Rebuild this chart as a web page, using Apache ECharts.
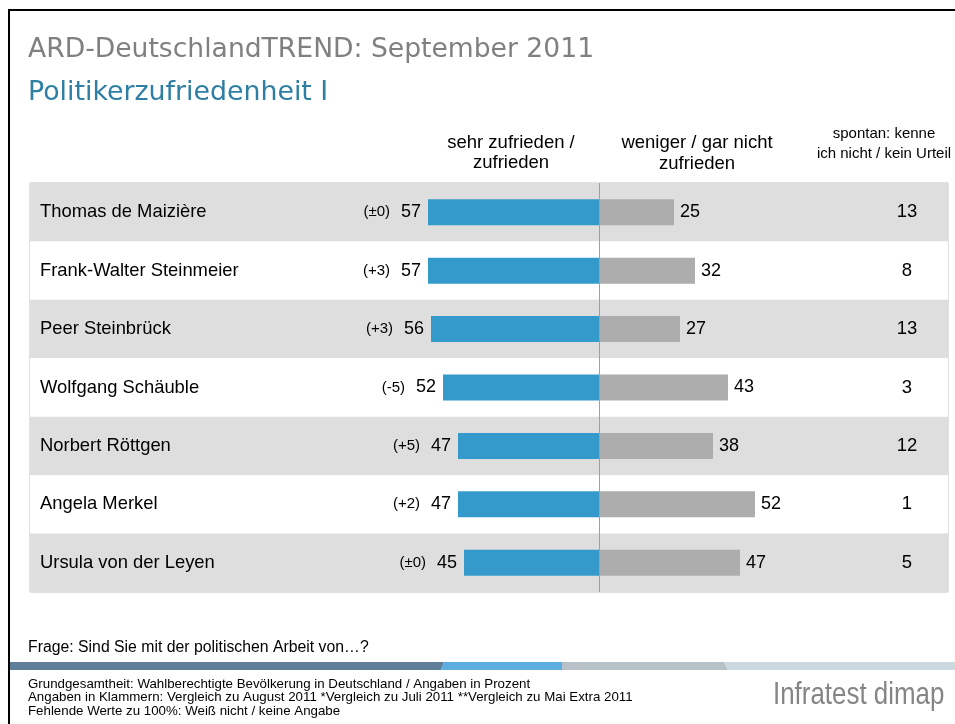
<!DOCTYPE html>
<html>
<head>
<meta charset="utf-8">
<script src="https://cdn.jsdelivr.net/npm/echarts@6/dist/echarts.min.js"></script>
<style>html,body{margin:0;padding:0;background:#fff;}#chart{width:955px;height:724px;}</style>
</head>
<body>
<div id="chart"></div>
<script>
const politicians = ['Thomas de Maizière','Frank-Walter Steinmeier','Peer Steinbrück','Wolfgang Schäuble','Norbert Röttgen','Angela Merkel','Ursula von der Leyen'];
const zufrieden = [57, 57, 56, 52, 47, 47, 45];
const changes = ['(±0)', '(+3)', '(+3)', '(-5)', '(+5)', '(+2)', '(±0)'];
const nichtZufrieden = [25, 32, 27, 43, 38, 52, 47];
const spontan = [13, 8, 13, 3, 12, 1, 5];

const chart = echarts.init(document.getElementById('chart'));
const F = 'Liberation Sans, Arial, sans-serif';
const option = {
  animation: false,
  grid: { left: 30, width: 918, top: 183, height: 409, show: true, borderColor: '#c4c4c4', borderWidth: 1, backgroundColor: 'transparent' },
  xAxis: { type: 'value', min: -(569 / 3), max: 349 / 3, show: false },
  yAxis: [
    {
      type: 'category', data: politicians, inverse: true,
      axisLine: { show: false }, axisTick: { show: false },
      splitArea: { show: true, areaStyle: { color: ['#dedede', '#ffffff'] } },
      axisLabel: { inside: true, margin: 10, color: '#000', fontSize: 18.4, fontFamily: F, padding: [4, 0, 0, 0] }
    },
    {
      type: 'category', data: politicians, inverse: true, position: 'right',
      axisLine: { show: false }, axisTick: { show: false }, splitArea: { show: false },
      axisLabel: { inside: true, margin: 41, align: 'center', color: '#000', fontSize: 18.5, fontFamily: F, padding: [3, 0, 0, 0],
        formatter: (v, i) => String(spontan[i]) }
    }
  ],
  series: [
    {
      type: 'bar', name: 'sehr zufrieden / zufrieden', barWidth: 26, barGap: '-100%',
      data: zufrieden.map(v => -v),
      itemStyle: { color: '#339acb' },
      label: {
        show: true, position: 'left', distance: 7, fontFamily: F,
        formatter: p => '{c|' + changes[p.dataIndex] + '}{v|' + zufrieden[p.dataIndex] + '}',
        rich: { c: { fontSize: 15, color: '#000', fontFamily: F, padding: [0, 11, 0, 0] }, v: { fontSize: 18, color: '#000', fontFamily: F } }
      },
      markLine: {
        silent: true, symbol: 'none', label: { show: false },
        lineStyle: { color: '#a0a0a0', width: 1, type: 'solid' },
        data: [{ xAxis: 0 }]
      }
    },
    {
      type: 'bar', name: 'weniger / gar nicht zufrieden', barWidth: 26, barGap: '-100%',
      data: nichtZufrieden,
      itemStyle: { color: '#adadad' },
      label: { show: true, position: 'right', distance: 6, fontSize: 18, color: '#000', fontFamily: F }
    }
  ],
  graphic: [
    { type: 'rect', shape: { x: 8, y: 9, width: 947, height: 2 }, style: { fill: '#000' } },
    { type: 'rect', shape: { x: 8, y: 9, width: 2, height: 715 }, style: { fill: '#000' } },
    { type: 'text', left: 28, top: 37, style: { text: 'ARD-DeutschlandTREND: September 2011', font: '26.6px "DejaVu Sans"', fill: '#808080' } },
    { type: 'text', left: 28, top: 80, style: { text: 'Politikerzufriedenheit I', font: '26.8px "DejaVu Sans"', fill: '#2f7fa4' } },
    { type: 'text', x: 511, y: 133, style: { text: 'sehr zufrieden /\nzufrieden', font: '18.5px ' + F, fill: '#000', align: 'center', lineHeight: 20 } },
    { type: 'text', x: 697, y: 132, style: { text: 'weniger / gar nicht\nzufrieden', font: '18.5px ' + F, fill: '#000', align: 'center', lineHeight: 21 } },
    { type: 'text', x: 884, y: 124, style: { text: 'spontan: kenne\nich nicht / kein Urteil', font: '15px ' + F, fill: '#000', align: 'center', lineHeight: 20 } },
    { type: 'text', left: 28, top: 640, style: { text: 'Frage: Sind Sie mit der politischen Arbeit von…?', font: '15.8px ' + F, fill: '#000' } },
    { type: 'polygon', shape: { points: [[10, 662], [444, 662], [441, 670], [10, 670]] }, style: { fill: '#5f7f99' } },
    { type: 'polygon', shape: { points: [[444, 662], [562, 662], [562, 670], [441, 670]] }, style: { fill: '#5caee0' } },
    { type: 'polygon', shape: { points: [[562, 662], [724, 662], [728, 670], [562, 670]] }, style: { fill: '#b8c0c8' } },
    { type: 'polygon', shape: { points: [[724, 662], [955, 662], [955, 670], [728, 670]] }, style: { fill: '#ccd8df' } },
    { type: 'text', left: 28, top: 677.5, style: { text: 'Grundgesamtheit: Wahlberechtigte Bevölkerung in Deutschland / Angaben in Prozent\nAngaben in Klammern: Vergleich zu August 2011 *Vergleich zu Juli 2011 **Vergleich zu Mai Extra 2011\nFehlende Werte zu 100%: Weiß nicht / keine Angabe', font: '13.3px ' + F, fill: '#000', lineHeight: 13.5 } },
    { type: 'text', x: 773, y: 695, scaleX: 0.81, style: { text: 'Infratest dimap', font: '32px ' + F, fill: '#858585', verticalAlign: 'middle' } }
  ]
};
chart.setOption(option);
</script>
</body>
</html>
